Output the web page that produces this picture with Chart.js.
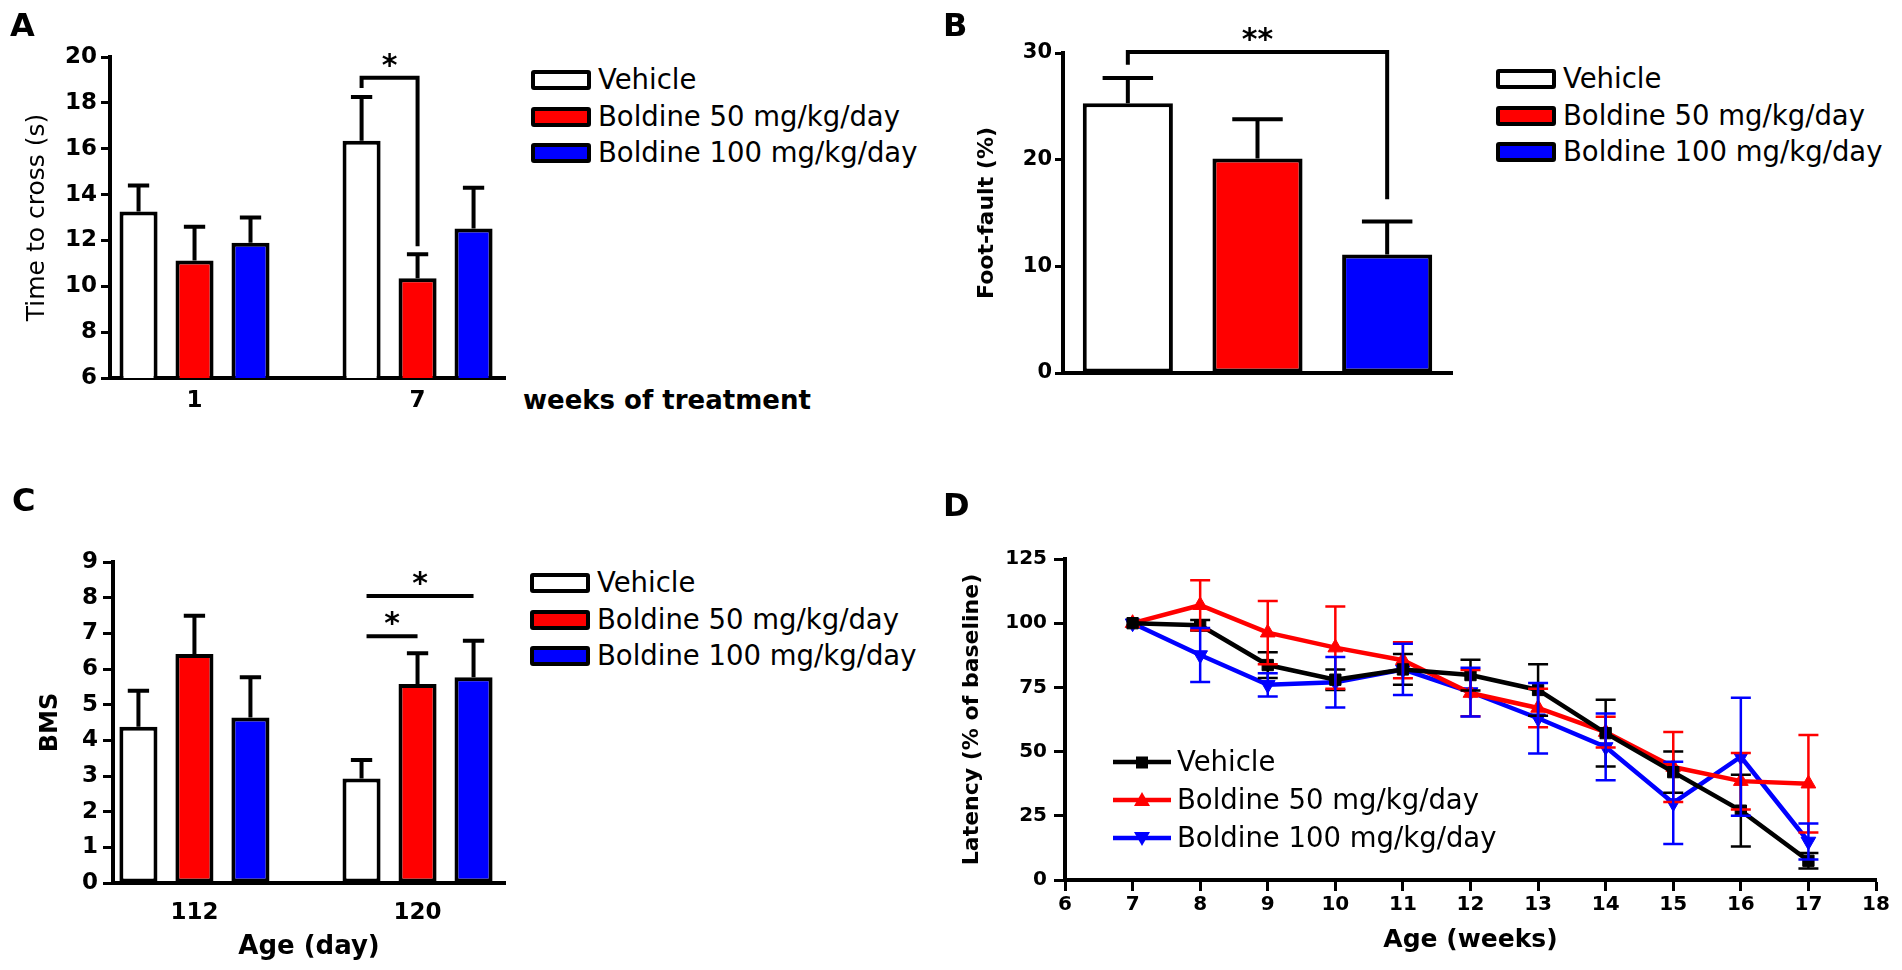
<!DOCTYPE html>
<html>
<head>
<meta charset="utf-8">
<script src="https://cdn.jsdelivr.net/npm/chart.js@4.4.1/dist/chart.umd.min.js"></script>
<style>
html, body { margin: 0; padding: 0; background: #fff; }
body { width: 1902px; height: 970px; position: relative; overflow: hidden; font-family: 'DejaVu Sans', sans-serif; color: #000; }
canvas { position: absolute; }
.letter { position: absolute; font: bold 32px 'DejaVu Sans', sans-serif; line-height: 1; }
.axisnote { position: absolute; font: bold 26px 'DejaVu Sans', sans-serif; line-height: 1; white-space: nowrap; }
.legend { position: absolute; }
.legend .row { display: flex; align-items: center; height: 20px; margin-bottom: 16.5px; }
.legend .swatch { width: 52px; height: 12px; border: 4px solid #000; border-radius: 3px; }
.legend span { font-size: 27.5px; margin-left: 7px; line-height: 1; white-space: nowrap; }
.legend.lines .row { height: 20px; margin-bottom: 18px; }
.legend.lines span { margin-left: 6px; }
</style>
</head>
<body>
<canvas id="chartA" width="520" height="440" style="left:0;top:0"></canvas>
<canvas id="chartB" width="540" height="440" style="left:930px;top:0"></canvas>
<canvas id="chartC" width="520" height="510" style="left:0;top:460px"></canvas>
<canvas id="chartD" width="972" height="510" style="left:930px;top:460px"></canvas>

<div class="letter" style="left:10px;top:9px">A</div>
<div class="letter" style="left:943px;top:9px">B</div>
<div class="letter" style="left:12px;top:484px">C</div>
<div class="letter" style="left:943px;top:489px">D</div>
<div class="axisnote" style="left:523px;top:387px">weeks of treatment</div>

<div class="legend" id="legendA" style="left:531px;top:70px"></div>
<div class="legend" id="legendB" style="left:1496px;top:69px"></div>
<div class="legend" id="legendC" style="left:530px;top:573px"></div>
<div class="legend lines" id="legendD" style="left:1113px;top:752px"></div>

<script>
// groups
const seriesNames = ['Vehicle', 'Boldine 50 mg/kg/day', 'Boldine 100 mg/kg/day'];
const barFills = ['#ffffff', '#ff0000', '#0000ff'];
const lineColours = ['#000000', '#ff0000', '#0000ff'];

// A - time to cross (s), rows = series, columns = weeks
const weeksA = ['1', '7'];
const crossMean = [[13.26, 16.35], [11.13, 10.35], [11.9, 12.52]];
const crossSem = [[1.14, 1.91], [1.47, 1.05], [1.1, 1.78]];

// B - foot-fault (%)
const faultMean = [25.3, 20.1, 11.1];
const faultSem = [2.36, 3.7, 3.1];

// C - BMS by age (day)
const ageC = ['112', '120'];
const bmsMean = [[4.38, 2.93], [6.42, 5.58], [4.64, 5.77]];
const bmsSem = [[1.01, 0.52], [1.07, 0.86], [1.13, 1.02]];

// D - latency (% of baseline) by age (weeks)
const weeksD = [7, 8, 9, 10, 11, 12, 13, 14, 15, 16, 17];
const latencyVehicle = [100, 99.2, 83.7, 78, 82, 79.8, 74, 57.2, 42, 27, 7.5];
const latencyVehicleSem = [0, 2, 5, 4, 6, 6, 10, 13, 8, 14, 3];
const latency50 = [100, 107, 96.3, 90.5, 85.6, 72.8, 67, 57.6, 44, 38.5, 37.5];
const latency50Sem = [0, 9.7, 12.3, 16, 7, 9, 7.5, 6, 13.6, 11, 19];
const latency100 = [100, 87.6, 76, 77, 82, 73.2, 63, 51.8, 30, 48, 15];
const latency100Sem = [0, 10.5, 4.5, 9.8, 10, 9.5, 13.7, 13, 16, 23, 7];

// significance marks: [dataset, index] of both bars, bracket level and drop ends
const signifA = [{ from: [0, 1], to: [1, 1], level: 19.1, dropFrom: 18.65, dropTo: 11.75, text: '*' }];
const signifB = [{ from: [0, 0], to: [0, 2], level: 30.1, dropFrom: 28.9, dropTo: 16.3, text: '**' }];
const signifC = [
    { from: [0, 1], to: [1, 1], level: 6.92, dropFrom: 6.92, dropTo: 6.92, text: '*' },
    { from: [0, 1], to: [2, 1], level: 8.05, dropFrom: 8.05, dropTo: 8.05, text: '*' }
];

Chart.defaults.font.family = "'DejaVu Sans', sans-serif";
Chart.defaults.color = '#000';

function barErrors(sem) {
    return {
        id: 'barErrors',
        afterDatasetsDraw(chart) {
            const ctx = chart.ctx, y = chart.scales.y;
            ctx.save();
            ctx.strokeStyle = '#000';
            ctx.lineWidth = 4;
            sem.forEach((row, i) => {
                const meta = chart.getDatasetMeta(i);
                meta.data.forEach((bar, j) => {
                    const mean = meta.controller.getParsed(j).y;
                    const top = y.getPixelForValue(mean + row[j]);
                    const half = bar.width * 0.28;
                    ctx.beginPath();
                    ctx.moveTo(bar.x, bar.y);
                    ctx.lineTo(bar.x, top);
                    ctx.moveTo(bar.x - half, top);
                    ctx.lineTo(bar.x + half, top);
                    ctx.stroke();
                });
            });
            ctx.restore();
        }
    };
}

function brackets(list) {
    return {
        id: 'brackets',
        afterDatasetsDraw(chart) {
            const ctx = chart.ctx, y = chart.scales.y;
            ctx.save();
            ctx.strokeStyle = '#000';
            ctx.fillStyle = '#000';
            ctx.lineWidth = 4;
            list.forEach(b => {
                const p = chart.getDatasetMeta(b.from[0]).data[b.from[1]];
                const q = chart.getDatasetMeta(b.to[0]).data[b.to[1]];
                const flat = b.dropFrom === b.level && b.dropTo === b.level;
                const x0 = flat ? p.x + 5 : p.x;
                const yl = y.getPixelForValue(b.level);
                ctx.beginPath();
                ctx.moveTo(x0, y.getPixelForValue(b.dropFrom));
                ctx.lineTo(x0, yl);
                ctx.lineTo(q.x, yl);
                ctx.lineTo(q.x, y.getPixelForValue(b.dropTo));
                ctx.stroke();
                ctx.font = "bold 30px 'DejaVu Sans'";
                ctx.textAlign = 'center';
                ctx.textBaseline = 'alphabetic';
                ctx.fillText(b.text, (x0 + q.x) / 2, yl - 3);
            });
            ctx.restore();
        }
    };
}

function lineErrors(sems) {
    return {
        id: 'lineErrors',
        afterDatasetsDraw(chart) {
            const ctx = chart.ctx, y = chart.scales.y;
            ctx.save();
            ctx.lineWidth = 2.5;
            sems.forEach((sem, i) => {
                const meta = chart.getDatasetMeta(i);
                ctx.strokeStyle = chart.data.datasets[i].borderColor;
                meta.data.forEach((pt, j) => {
                    if (!sem[j]) return;
                    const mean = meta.controller.getParsed(j).y;
                    const hi = y.getPixelForValue(mean + sem[j]);
                    const lo = y.getPixelForValue(mean - sem[j]);
                    ctx.beginPath();
                    ctx.moveTo(pt.x, hi); ctx.lineTo(pt.x, lo);
                    ctx.moveTo(pt.x - 10, hi); ctx.lineTo(pt.x + 10, hi);
                    ctx.moveTo(pt.x - 10, lo); ctx.lineTo(pt.x + 10, lo);
                    ctx.stroke();
                });
            });
            ctx.restore();
        }
    };
}

function yAxis(min, max, step, size, tick, pad, width, title) {
    return {
        min: min, max: max,
        ticks: { stepSize: step, padding: pad, font: { size: size, weight: 'bold' }, color: '#000' },
        grid: { display: true, drawOnChartArea: false, drawTicks: true, tickLength: tick, tickWidth: 3, tickColor: '#000' },
        border: { display: true, color: '#000', width: 4 },
        title: title,
        afterFit: s => { s.width = width; }
    };
}

function groupedX(labels, min, max, height, title) {
    return {
        type: 'linear', min: min, max: max, offset: false,
        grid: { display: false, drawTicks: false },
        border: { display: true, color: '#000', width: 4 },
        afterBuildTicks: s => { s.ticks = labels.map((l, j) => ({ value: j + 1 })); },
        ticks: { callback: v => labels[v - 1], padding: 9, maxRotation: 0, autoSkip: false, font: { size: 23, weight: 'bold' }, color: '#000' },
        title: title,
        afterFit: s => { s.height = height; }
    };
}

const common = {
    responsive: false,
    animation: false,
    plugins: { legend: { display: false }, tooltip: { enabled: false } }
};

// A
new Chart(document.getElementById('chartA'), {
    type: 'bar',
    data: {
        datasets: seriesNames.map((name, i) => ({
            label: name,
            data: weeksA.map((w, j) => ({ x: j + 1, y: crossMean[i][j] })),
            backgroundColor: barFills[i],
            borderColor: '#000', borderWidth: 4, borderSkipped: false,
            categoryPercentage: 0.753, barPercentage: 0.68
        }))
    },
    options: Object.assign({}, common, {
        layout: { padding: { left: 0, top: 57, right: 15, bottom: 0 } },
        scales: {
            x: groupedX(weeksA, 0.621, 2.392, 62, { display: false }),
            y: yAxis(6, 20, 2, 23, 9, 4, 110, {
                display: true, text: 'Time to cross (s)', color: '#000',
                font: { size: 25, weight: 'normal' }, padding: { top: 22, bottom: 0 }
            })
        }
    }),
    plugins: [barErrors(crossSem), brackets(signifA)]
});

// B
new Chart(document.getElementById('chartB'), {
    type: 'bar',
    data: {
        labels: seriesNames,
        datasets: [{
            label: 'Foot-fault',
            data: faultMean,
            backgroundColor: barFills,
            borderColor: '#000', borderWidth: 4, borderSkipped: false,
            categoryPercentage: 1, barPercentage: 0.695
        }]
    },
    options: Object.assign({}, common, {
        layout: { padding: { left: 0, top: 53, right: 18, bottom: 0 } },
        scales: {
            x: {
                grid: { display: false, drawTicks: false },
                border: { display: true, color: '#000', width: 4 },
                ticks: { display: false },
                afterFit: s => { s.height = 67; }
            },
            y: yAxis(0, 30, 10, 21, 8, 3, 133, {
                display: true, text: 'Foot-fault (%)', color: '#000',
                font: { size: 22, weight: 'bold' }, padding: { top: 44, bottom: 0 }
            })
        }
    }),
    plugins: [barErrors([faultSem]), brackets(signifB)]
});

// C
new Chart(document.getElementById('chartC'), {
    type: 'bar',
    data: {
        datasets: seriesNames.map((name, i) => ({
            label: name,
            data: ageC.map((a, j) => ({ x: j + 1, y: bmsMean[i][j] })),
            backgroundColor: barFills[i],
            borderColor: '#000', borderWidth: 4, borderSkipped: false,
            categoryPercentage: 0.753, barPercentage: 0.68
        }))
    },
    options: Object.assign({}, common, {
        layout: { padding: { left: 0, top: 102, right: 15, bottom: 0 } },
        scales: {
            x: (() => {
                const x = groupedX(ageC, 0.635, 2.392, 87, {
                    display: true, text: 'Age (day)', color: '#000',
                    font: { size: 26, weight: 'bold' }, padding: { top: 0, bottom: 7 }
                });
                x.ticks.padding = 16;
                return x;
            })(),
            y: yAxis(0, 9, 1, 23, 10, 5, 113, {
                display: true, text: 'BMS', color: '#000',
                font: { size: 24, weight: 'bold' }, padding: { top: 36, bottom: 0 }
            })
        }
    }),
    plugins: [barErrors(bmsSem), brackets(signifC)]
});

// D
const latencySeries = [latencyVehicle, latency50, latency100];
const latencySems = [latencyVehicleSem, latency50Sem, latency100Sem];
const markerStyles = ['rect', 'triangle', 'triangle'];
const markerTurn = [0, 0, 180];

new Chart(document.getElementById('chartD'), {
    type: 'line',
    data: {
        datasets: seriesNames.map((name, i) => ({
            label: name,
            data: weeksD.map((w, j) => ({ x: w, y: latencySeries[i][j] })),
            borderColor: lineColours[i],
            backgroundColor: lineColours[i],
            borderWidth: 4.5,
            pointStyle: markerStyles[i],
            pointRotation: markerTurn[i],
            pointRadius: i === 0 ? 8 : 8.5,
            pointBorderWidth: 1,
            pointBackgroundColor: lineColours[i],
            pointBorderColor: lineColours[i],
            tension: 0
        }))
    },
    options: Object.assign({}, common, {
        layout: { padding: { left: 0, top: 99, right: 26, bottom: 0 } },
        scales: {
            x: {
                type: 'linear', min: 6, max: 18,
                ticks: { stepSize: 1, padding: 2, maxRotation: 0, autoSkip: false, font: { size: 20, weight: 'bold' }, color: '#000' },
                grid: { display: true, drawOnChartArea: false, drawTicks: true, tickLength: 11, tickWidth: 3, tickColor: '#000' },
                border: { display: true, color: '#000', width: 4 },
                title: {
                    display: true, text: 'Age (weeks)', color: '#000',
                    font: { size: 25, weight: 'bold' }, padding: { top: 0, bottom: 15 }
                },
                afterFit: s => { s.height = 90; }
            },
            y: yAxis(0, 125, 25, 20, 11, 7, 135, {
                display: true, text: 'Latency (% of baseline)', color: '#000',
                font: { size: 22, weight: 'bold' }, padding: { top: 29, bottom: 0 }
            })
        }
    }),
    plugins: [lineErrors(latencySems)]
});

// legends
['legendA', 'legendB', 'legendC'].forEach(id => {
    document.getElementById(id).innerHTML = seriesNames.map((n, i) =>
        '<div class="row"><div class="swatch" style="background:' + barFills[i] + '"></div><span>' + n + '</span></div>'
    ).join('');
});

const legendMarks = [
    '<rect x="23" y="4.5" width="12" height="12" />',
    '<polygon points="29,2 37,16 21,16" />',
    '<polygon points="29,18 37,4 21,4" />'
];
document.getElementById('legendD').innerHTML = seriesNames.map((n, i) =>
    '<div class="row"><svg width="58" height="20" style="fill:' + lineColours[i] + '">' +
    '<line x1="0" y1="10" x2="58" y2="10" stroke="' + lineColours[i] + '" stroke-width="4.5" />' +
    legendMarks[i] + '</svg><span>' + n + '</span></div>'
).join('');
</script>
</body>
</html>
